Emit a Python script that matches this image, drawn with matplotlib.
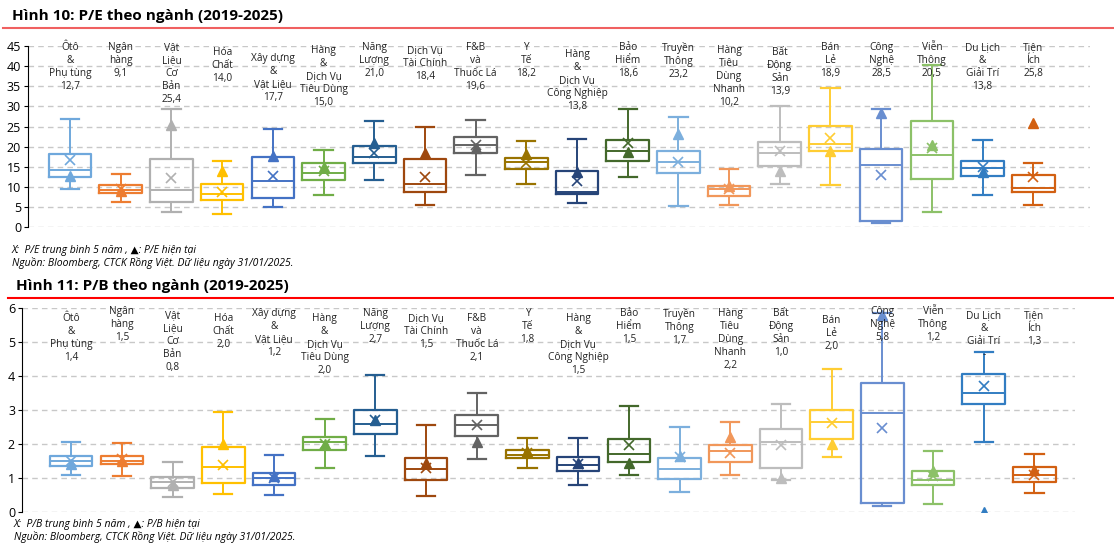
import matplotlib
matplotlib.use("Agg")
import matplotlib.pyplot as plt
from matplotlib.lines import Line2D

plt.rcParams['font.family'] = ['Open Sans', 'DejaVu Sans']

sectors = ["Ôtô\n&\nPhụ tùng", "Ngân\nhàng", "Vật\nLiệu\nCơ\nBản", "Hóa\nChất", "Xây dựng\n&\nVật Liệu",
           "Hàng\n&\nDịch Vụ\nTiêu Dùng", "Năng\nLượng", "Dịch Vụ\nTài Chính", "F&B\nvà\nThuốc Lá", "Y\nTế",
           "Hàng\n&\nDịch Vụ\nCông Nghiệp", "Bảo\nHiểm", "Truyền\nThông", "Hàng\nTiêu\nDùng\nNhanh",
           "Bất\nĐộng\nSản", "Bán\nLẻ", "Công\nNghệ", "Viễn\nThông", "Du Lịch\n&\nGiải Trí", "Tiện\nÍch"]
colors = ["#6FA8DC", "#ED7D31", "#B0B0B0", "#FFC000", "#4472C4", "#70AD47", "#255E91", "#9E480E",
          "#636363", "#997300", "#264478", "#43682B", "#7CAFDD", "#F1975A", "#BDBDBD", "#FFCD33",
          "#698ED0", "#8CC168", "#327DC2", "#D26012"]

# P/E
pe_low = [9.5, 6.2, 3.8, 3.3, 5.1, 8.0, 11.8, 5.5, 13.1, 10.8, 6.1, 12.6, 5.3, 5.5, 10.8, 10.5, 1.0, 3.9, 8.1, 5.7]
pe_q1 = [12.6, 8.6, 6.3, 6.7, 7.2, 11.9, 16.1, 8.8, 18.4, 14.6, 8.4, 16.5, 13.5, 7.7, 15.3, 18.9, 1.7, 12.1, 12.8, 8.8]
pe_med = [14.2, 9.3, 9.2, 8.3, 11.6, 13.6, 17.4, 10.7, 20.5, 16.2, 8.9, 19.0, 16.2, 9.5, 18.5, 20.7, 15.4, 17.9, 14.8, 9.7]
pe_q3 = [18.3, 10.5, 17.1, 10.8, 17.6, 15.9, 20.3, 17.0, 22.5, 17.3, 13.9, 21.7, 19.0, 10.4, 21.3, 25.1, 19.4, 26.3, 16.6, 12.9]
pe_high = [26.9, 13.2, 29.5, 16.5, 24.3, 19.3, 26.5, 25.0, 26.7, 21.4, 22.0, 29.4, 27.3, 14.4, 30.2, 34.5, 29.4, 40.4, 21.6, 16.1]
pe_mean = [16.8, 9.5, 12.2, 8.9, 12.7, 14.0, 18.4, 12.6, 20.5, 15.9, 11.6, 20.9, 16.3, 9.6, 19.0, 22.3, 13.1, 19.7, 15.0, 12.6]
pe_cur = [12.7, 9.1, 25.4, 14.0, 17.7, 15.0, 21.0, 18.4, 19.6, 18.2, 13.8, 18.6, 23.2, 10.2, 13.9, 18.9, 28.5, 20.5, 13.8, 25.8]
pe_cur_lbl = ["12,7", "9,1", "25,4", "14,0", "17,7", "15,0", "21,0", "18,4", "19,6", "18,2", "13,8", "18,6",
              "23,2", "10,2", "13,9", "18,9", "28,5", "20,5", "13,8", "25,8"]

# P/B
pb_low = [1.08, 1.05, 0.43, 0.52, 0.50, 1.30, 1.65, 0.48, 1.57, 1.30, 0.78, 1.08, 0.59, 1.10, 0.95, 1.62, 0.18, 0.24, 2.06, 0.55]
pb_q1 = [1.34, 1.40, 0.72, 0.85, 0.80, 1.82, 2.30, 0.93, 2.25, 1.58, 1.20, 1.47, 0.98, 1.47, 1.29, 2.15, 0.26, 0.80, 3.19, 0.88]
pb_med = [1.50, 1.50, 0.87, 1.33, 1.00, 2.05, 2.60, 1.27, 2.55, 1.68, 1.38, 1.72, 1.26, 1.80, 2.06, 2.65, 2.91, 0.95, 3.49, 1.09]
pb_q3 = [1.65, 1.65, 1.03, 1.90, 1.15, 2.20, 3.00, 1.60, 2.85, 1.82, 1.61, 2.14, 1.58, 1.98, 2.45, 3.00, 3.78, 1.21, 4.05, 1.31]
pb_high = [2.05, 2.02, 1.48, 2.95, 1.68, 2.75, 4.02, 2.55, 3.50, 2.18, 2.18, 3.12, 2.49, 2.64, 3.18, 4.22, 5.85, 1.80, 4.72, 1.70]
pb_mean = [1.50, 1.55, 0.88, 1.38, 1.00, 2.00, 2.70, 1.30, 2.55, 1.75, 1.40, 1.96, 1.62, 1.74, 1.96, 2.61, 2.48, 1.05, 3.71, 1.08]
pb_cur = [1.4, 1.5, 0.8, 2.0, 1.05, 2.0, 2.7, 1.45, 2.05, 1.78, 1.45, 1.45, 1.65, 2.2, 1.0, 2.0, 5.8, 1.2, 0.0, 1.25]
pb_cur_lbl = ["1,4", "1,5", "0,8", "2,0", "1,2", "2,0", "2,7", "1,5", "2,1", "1,8", "1,5", "1,5", "1,7",
              "2,2", "1,0", "2,0", "5,8", "1,2", "-", "1,3"]

pe_lbl_top = [46, 46, 46, 44.8, 43.2, 45.3, 46, 45.3, 46, 46, 44.2, 46, 46, 45.3, 44.8, 46, 46, 46, 46, 46]
pb_lbl_top = [5.85, 6.05, 5.95, 5.85, 6.0, 5.85, 6.0, 5.85, 5.85, 6.0, 5.85, 6.0, 6.0, 6.0, 6.0, 5.8, 6.05, 6.05, 5.95, 5.95]


def draw(ax, low, q1, med, q3, high, mean, cur, lbls, tops, ymax, step):
    n = len(sectors)
    for i in range(n):
        st = [dict(med=med[i], q1=q1[i], q3=q3[i], whislo=low[i], whishi=high[i], fliers=[])]
        c = colors[i]
        ax.bxp(st, positions=[i], widths=0.84, showfliers=False, patch_artist=False,
               boxprops=dict(color=c, lw=1.6), medianprops=dict(color=c, lw=1.4),
               whiskerprops=dict(color=c, lw=1.4), capprops=dict(color=c, lw=1.6), capwidths=0.36)
        ax.plot(i, mean[i], marker='x', color=c, ms=7, mew=1.2, zorder=5)
        ax.plot(i, cur[i], marker='^', color=c, ms=7, zorder=5)
        ax.text(i, tops[i], sectors[i] + "\n" + lbls[i], ha='center', va='top', fontsize=7.3,
                color='#222222', linespacing=1.25, zorder=6)
    ax.set_ylim(0, ymax)
    ax.set_yticks([v * step for v in range(int(ymax / step) + 1)])
    ax.yaxis.grid(True, ls=(0, (4, 3)), color='#C8C8C8', lw=1)
    ax.set_axisbelow(True)
    ax.set_xticks([])
    for s in ['top', 'right', 'bottom']:
        ax.spines[s].set_visible(False)
    ax.spines['left'].set_color('black')
    ax.tick_params(axis='y', labelsize=9, length=3, pad=2)


fig = plt.figure(figsize=(11.14, 5.5), dpi=100)
ax1 = fig.add_axes([28 / 1114, 1 - 227.5 / 550, (1090 - 28) / 1114, (227.5 - 46) / 550])
draw(ax1, pe_low, pe_q1, pe_med, pe_q3, pe_high, pe_mean, pe_cur, pe_cur_lbl, pe_lbl_top, 45, 5)
ax1.set_xlim(-0.83, 20.12)

ax2 = fig.add_axes([22 / 1114, 1 - 512 / 550, (1075 - 22) / 1114, (512 - 308) / 550])
draw(ax2, pb_low, pb_q1, pb_med, pb_q3, pb_high, pb_mean, pb_cur, pb_cur_lbl, pb_lbl_top, 6, 1)
ax2.set_xlim(-0.97, 19.8)

fig.text(12 / 1114, 1 - 16 / 550, "Hình 10: P/E theo ngành (2019-2025)", fontsize=11, fontweight='bold', va='center')
fig.add_artist(Line2D([3 / 1114, 1], [1 - 28 / 550] * 2, color='#F06060', lw=1.5))
fig.text(12 / 1114, 1 - 250 / 550, "X:  P/E trung bình 5 năm , ▲: P/E hiện tại", fontsize=7.5, style='italic', va='center')
fig.text(12 / 1114, 1 - 263 / 550, "Nguồn: Bloomberg, CTCK Rồng Việt. Dữ liệu ngày 31/01/2025.", fontsize=7.5, style='italic', va='center')
fig.text(16 / 1114, 1 - 286 / 550, "Hình 11: P/B theo ngành (2019-2025)", fontsize=11, fontweight='bold', va='center')
fig.add_artist(Line2D([8 / 1114, 1], [1 - 298 / 550] * 2, color='#FF0000', lw=1.5))
fig.text(14 / 1114, 1 - 524 / 550, "X:  P/B trung bình 5 năm , ▲: P/B hiện tại", fontsize=7.5, style='italic', va='center')
fig.text(14 / 1114, 1 - 537 / 550, "Nguồn: Bloomberg, CTCK Rồng Việt. Dữ liệu ngày 31/01/2025.", fontsize=7.5, style='italic', va='center')

fig.savefig("out.png", dpi=100)
